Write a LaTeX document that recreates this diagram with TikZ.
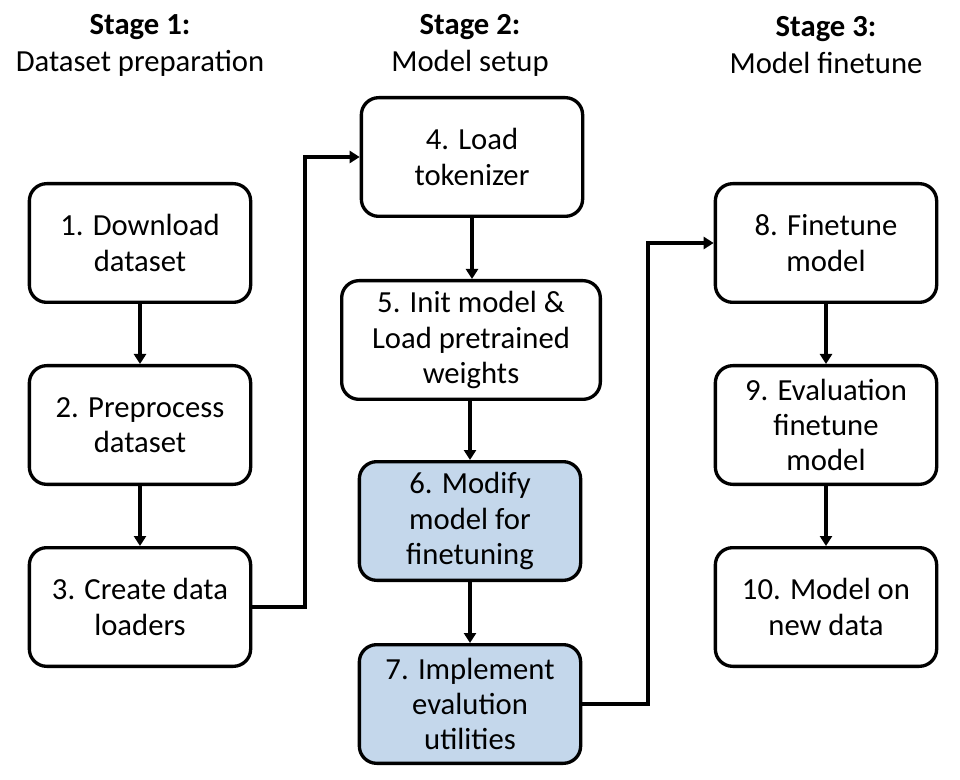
\documentclass[tikz,border=0pt]{standalone}
\usepackage{fontspec}
\setmainfont{Carlito}
\usepackage{tikz}
\usetikzlibrary{arrows.meta, positioning, calc}
\definecolor{stepblue}{RGB}{196,215,235}

\begin{document}
\begin{tikzpicture}[x=0.75pt, y=-0.75pt,
        every node/.style={font=\fontsize{23}{26.5}\selectfont, align=center},
        title/.style={font=\fontsize{23}{27.75}\selectfont},
        box/.style={draw, line width=2.5pt, rounded corners=13pt,
                    minimum width=166pt, minimum height=89pt, inner sep=2pt},
        flow/.style={line width=2.5pt, -{Triangle[length=7.5pt, width=9pt]}}]
    \useasboundingbox (0,0) rectangle (960,780);
    % stage titles
    \node[title] (h1) at (140,45) {\textbf{Stage 1:}\\Dataset preparation};
    \node[title] (h2) at (470,45) {\textbf{Stage 2:}\\Model setup};
    \node[title] (h3) at (826,45) {\textbf{Stage 3:}\\Model finetune};
    % stage 1
    \node[box] (b1) at (140,243) {1. Download\\dataset};
    \node[box] (b2) at (140,425) {2. Preprocess\\dataset};
    \node[box] (b3) at (140,607) {3. Create data\\loaders};
    % stage 2
    \node[box] (b4) at (472,157) {4. Load\\tokenizer};
    \node[box, minimum width=194pt] (b5) at (471,340) {5. Init model \&\\Load pretrained\\weights};
    \node[box, fill=stepblue] (b6) at (470,521) {6. Modify\\model for\\finetuning};
    \node[box, fill=stepblue] (b7) at (470,704) {7. Implement\\evalution\\utilities};
    % stage 3
    \node[box] (b8) at (826,243) {8. Finetune\\model};
    \node[box] (b9) at (826,425) {9. Evaluation\\finetune\\model};
    \node[box] (b10) at (826,607) {10. Model on\\new data};
    % elbow columns
    \coordinate (k1) at (305,0);
    \coordinate (k2) at (648,0);
    \draw[flow] (b1) -- (b2);
    \draw[flow] (b2) -- (b3);
    \draw[flow] (b3.east) -- (b3.east -| k1) |- (b4.west);
    \draw[flow] (b4) -- (b4 |- b5.north);
    \draw[flow] (b5.south -| b6) -- (b6);
    \draw[flow] (b6) -- (b7);
    \draw[flow] (b7.east) -- (b7.east -| k2) |- (b8.west);
    \draw[flow] (b8) -- (b9);
    \draw[flow] (b9) -- (b10);
\end{tikzpicture}
\end{document}
